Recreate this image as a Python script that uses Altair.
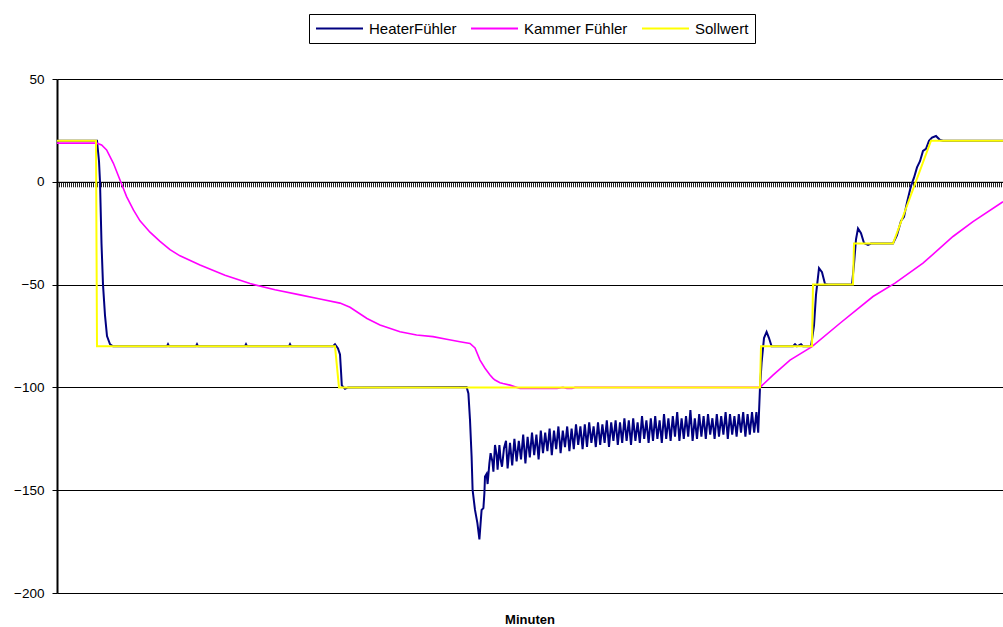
import altair as alt
import pandas as pd

SERIES = ["HeaterFühler", "Kammer Fühler", "Sollwert"]
COLORS = ["#000080", "#FF00FF", "#FFFF00"]

# HeaterFühler: start, oscillation, end (x = minutes, y = °C)
heater_x_a = [0, 20, 21, 21.5, 22.25, 23, 24, 25, 26.5, 28, 55, 55.5, 56, 69.5, 70, 70.5, 94, 94.5, 95, 116,
              116.5, 117, 138, 139, 140.5, 141.5, 142, 142.4, 144, 145.5, 204.8, 205.7, 206.5, 207.3, 207.8, 209,
              210.2, 211.2, 211.8, 212.3, 213.2, 213.7, 214, 214.8, 215.3, 216.2, 216.8, 217.7, 218.2, 219,
              219.8, 220.3, 221.2, 221.8, 222.5, 223.5, 224.5, 225.3]
heater_y_a = [20, 20, 10, 0, -30, -50, -65, -75, -79, -80, -80, -79, -80, -80, -79, -80, -80, -79, -80, -80,
              -79, -80, -80, -79, -81, -84, -92, -99, -100.7, -100, -99.8, -102.9, -115.8, -133.6, -149.9, -159.6,
              -166, -173.9, -166, -159.6, -158.7, -151.4, -143.3, -142, -147, -136.8, -132, -136, -141, -128,
              -132.8, -140, -128, -135, -138.6, -129.6, -126, -139.4]

heater_x_b = [226.5, 227.6, 228.7, 229.8, 230.9, 232.0, 233.1, 234.2, 235.3, 236.4, 237.5, 238.6, 239.7, 240.8,
              241.9, 243.0, 244.1, 245.2, 246.3, 247.4, 248.5, 249.6, 250.7, 251.8, 252.9, 254.0, 255.1, 256.2,
              257.3, 258.4, 259.5, 260.6, 261.7, 262.8, 263.9, 265.0, 266.1, 267.2, 268.3, 269.4, 270.5, 271.6,
              272.7, 273.8, 274.9, 276.0, 277.1, 278.2, 279.3, 280.4, 281.5, 282.6, 283.7, 284.8, 285.9, 287.0,
              288.1, 289.2, 290.3, 291.4, 292.5, 293.6, 294.7, 295.8, 296.9, 298.0, 299.1, 300.2, 301.3, 302.4,
              303.5, 304.6, 305.7, 306.8, 307.9, 309.0, 310.1, 311.2, 312.3, 313.4, 314.5, 315.6, 316.7, 317.8,
              318.9, 320.0, 321.1, 322.2, 323.3, 324.4, 325.5, 326.6, 327.7, 328.8, 329.9, 331.0, 332.1, 333.2,
              334.3, 335.4, 336.5, 337.6, 338.7, 339.8, 340.9, 342.0, 343.1, 344.2, 345.3, 346.4, 347.5, 348.6,
              349.7]
heater_y_b = [-127, -138, -125, -136, -126, -135, -123, -137, -124, -134,
              -122, -133, -123, -135, -121, -132, -122, -131, -120, -133,
              -121, -130, -119, -132, -121, -129, -119, -131, -120, -130,
              -118, -128, -119, -130, -118, -129, -117, -127, -119, -129,
              -117, -128, -118, -127, -116, -129, -117, -126, -116, -128,
              -117, -127, -115, -126, -116, -128, -115, -126, -117, -127,
              -114, -125, -116, -127, -115, -126, -114, -125, -116, -127,
              -113, -125, -115, -126, -114, -124, -112, -126, -115, -125,
              -114, -124, -111, -126, -115, -125, -113, -124, -114, -125,
              -113, -123, -115, -125, -113, -124, -114, -123, -112, -125,
              -113, -123, -114, -124, -113, -122, -112, -124, -113, -123,
              -112, -122, -112]

heater_x_c = [350.6, 351.5, 352.3, 353.5, 354.8, 356, 357.3, 368, 369, 370, 372, 373, 377, 378.5, 379.5, 381,
              382.5, 384, 385.5, 397.5, 398.5, 399.5, 400.5, 402, 403.5, 405.5, 407, 418, 420, 422, 423.5, 425,
              427, 428.5, 430, 431.5, 433, 434.5, 436, 437.5, 439.5, 441.5, 443, 473]
heater_y_c = [-122, -100, -88, -76, -73, -76, -80, -80, -79, -80, -79, -80, -80, -70, -55, -42,
              -44, -49.7, -50, -50, -40, -28, -22.7, -25, -29.8, -30.7, -30, -30, -26, -19, -17, -10,
              -2, 2, 7, 10, 15, 16, 20, 21.5, 22.3, 20.3, 20, 20]

kammer_x = [0, 19.8, 22.3, 24.8, 28.2, 31.5, 34.8, 38.2, 41.5, 46.5, 51.5, 56.5, 61.5, 71.5, 84, 96.5, 109,
            121.5, 131.5, 141.5, 146.5, 155, 161.5,
            171.5, 179.8, 188, 194.8, 201.5, 206.5, 209, 211.5, 214, 216.5, 218, 219, 221.5, 223, 226.5, 231.5,
            250, 253, 255, 257.5, 259, 351.5, 358, 366.5, 377.5, 391.5, 408, 419, 433, 448, 458, 473]
kammer_y = [18.8, 18.8, 17.9, 15.5, 9, 0.9, -7.2, -13.7, -19, -24.5, -29, -33, -36, -40.5, -45.5, -49.5, -52.5,
            -55, -57, -59, -61, -66.5, -69.6,
            -72.9, -74.5, -75.3, -76.6, -77.8, -78.6, -80.8, -86.7, -90.7, -94, -95.6, -96.4, -97.7, -98.1, -98.9,
            -100.5, -100.5, -100, -100.5, -100.5, -100, -100, -94, -86.7, -80.2, -68.8, -55.8, -49.3, -39.6,
            -26.6, -19.4, -9.7]

soll_x = [0, 19.5, 20, 139, 141, 351.5, 352, 377.5, 378, 398, 398.5, 418, 437, 473]
soll_y = [20, 20, -80, -80, -100, -100, -80, -80, -50, -50, -30, -30, 20, 20]

y_ticks = [-200, -150, -100, -50, 0, 50]

rows = []
for name, xs, ys in [
    ("HeaterFühler", heater_x_a + heater_x_b + heater_x_c, heater_y_a + heater_y_b + heater_y_c),
    ("Kammer Fühler", kammer_x, kammer_y),
    ("Sollwert", soll_x, soll_y),
]:
    for x, y in zip(xs, ys):
        rows.append({"Minuten": x, "Wert": y, "Serie": name})
df = pd.DataFrame(rows)

FONT = "Liberation Sans"
W, H = 946, 514
zero_offset = -(H - H * 50 / 250)

x_enc = alt.X("Minuten:Q",
              scale=alt.Scale(domain=[0, 473], nice=False, zero=False),
              axis=alt.Axis(values=list(range(0, 474)), labels=False, title=None, grid=False,
                            ticks=True, tickSize=5, tickColor="#222222", tickWidth=1,
                            domainColor="black", domainWidth=1, offset=zero_offset))
y_enc = alt.Y("Wert:Q",
              scale=alt.Scale(domain=[-200, 50], nice=False),
              axis=alt.Axis(values=y_ticks, title=None, grid=True, gridColor="black", gridWidth=1,
                            domainColor="black", domainWidth=2, tickColor="black", tickSize=5,
                            labelFont=FONT, labelFontSize=13.5, labelColor="black", labelPadding=8))
c_enc = alt.Color("Serie:N",
                  scale=alt.Scale(domain=SERIES, range=COLORS),
                  legend=alt.Legend(title=None, orient="none", legendX=252, legendY=-65,
                                    direction="horizontal", columns=3,
                                    strokeColor="black", fillColor="white", padding=6,
                                    symbolType="stroke", symbolSize=2209, symbolStrokeWidth=2,
                                    clipHeight=17,
                                    labelFont=FONT, labelFontSize=15, labelColor="black",
                                    columnPadding=13, labelOffset=5))

base = alt.Chart(df)
layers = []
for name, sw in [("HeaterFühler", 2), ("Kammer Fühler", 1.6), ("Sollwert", 2)]:
    layers.append(
        base.transform_filter(alt.datum.Serie == name)
        .mark_line(strokeWidth=sw, clip=True)
        .encode(x=x_enc, y=y_enc, color=c_enc)
    )

chart = alt.layer(*layers).properties(
    width=W, height=H,
    padding={"left": 57, "top": 79, "right": 0, "bottom": 34},
    autosize=alt.AutoSizeParams(type="none"),
    title=alt.TitleParams(text="Minuten", orient="bottom", offset=14, fontSize=13,
                          fontWeight="bold", font=FONT, color="black", anchor="middle"),
).configure_view(stroke="black", strokeWidth=1.5).configure(background="white")

chart.save("out.html", embed_options={"renderer": "svg", "actions": False})
